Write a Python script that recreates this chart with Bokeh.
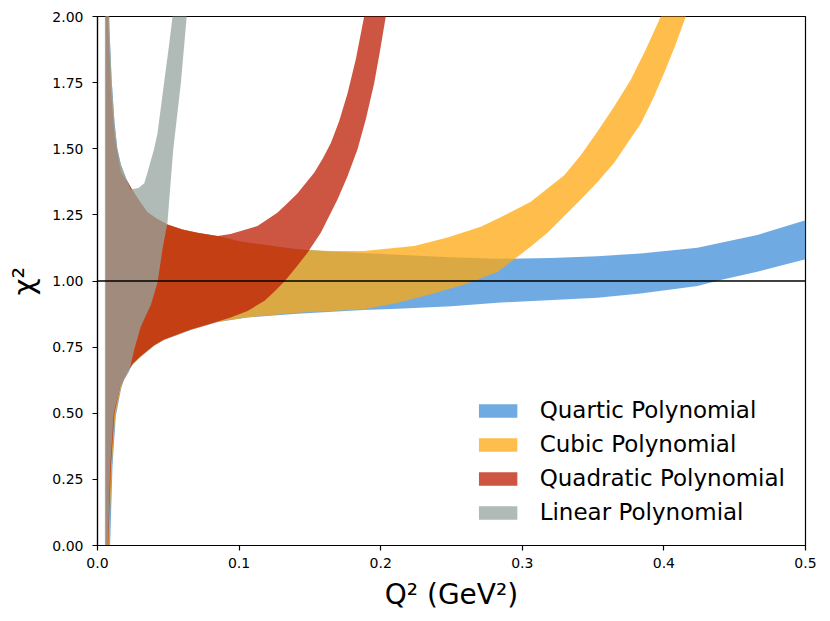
from bokeh.plotting import figure
from bokeh.models import Span, FixedTicker, PrintfTickFormatter, Range1d
from bokeh.embed import file_html
from bokeh.resources import INLINE

# ---------------- data ----------------
# Quartic polynomial band
q4_up_x = [0.0058, 0.0078, 0.0085, 0.0100, 0.0120, 0.0140, 0.0165, 0.0200, 0.0240, 0.0300,
           0.0353, 0.0420, 0.0494, 0.0600, 0.0706, 0.0847, 0.1000, 0.1200, 0.1410, 0.1650,
           0.1880, 0.2120, 0.2500, 0.2825, 0.3200, 0.3530, 0.3835, 0.4237, 0.4659, 0.5000]
q4_up_y = [2.50, 2.20, 1.95, 1.76, 1.60, 1.50, 1.44, 1.39, 1.35, 1.30,
           1.26, 1.235, 1.214, 1.195, 1.182, 1.170, 1.150, 1.135, 1.120, 1.112,
           1.106, 1.099, 1.090, 1.084, 1.087, 1.094, 1.104, 1.126, 1.174, 1.230]
q4_lo_x = [0.0058, 0.0086, 0.0089, 0.0106, 0.0129, 0.0165, 0.0185, 0.0212, 0.0250, 0.0306,
           0.0400, 0.0470, 0.0659, 0.0850, 0.1060, 0.1410, 0.1880, 0.2120, 0.2500, 0.2825,
           0.3530, 0.3835, 0.4237, 0.4400, 0.4659, 0.5000]
q4_lo_y = [-0.5, -0.2, 0.0, 0.30, 0.488, 0.589, 0.625, 0.652, 0.685, 0.714,
           0.755, 0.777, 0.815, 0.845, 0.862, 0.876, 0.890, 0.895, 0.905, 0.918,
           0.937, 0.953, 0.981, 1.004, 1.035, 1.082]

# Cubic polynomial band
q3_up_x = [0.0058, 0.0076, 0.0082, 0.0098, 0.0118, 0.0140, 0.0165, 0.0200, 0.0240, 0.0300,
           0.0353, 0.0420, 0.0494, 0.0600, 0.0706, 0.0847, 0.1000, 0.1200, 0.1410, 0.1650,
           0.1880, 0.2236, 0.2472, 0.2707, 0.2825, 0.3060, 0.3296, 0.3413, 0.3531, 0.3649,
           0.3766, 0.3872, 0.3978, 0.4100]
q3_up_y = [2.50, 2.20, 1.95, 1.74, 1.58, 1.48, 1.43, 1.385, 1.35, 1.30,
           1.26, 1.235, 1.214, 1.195, 1.182, 1.170, 1.150, 1.135, 1.118, 1.113,
           1.113, 1.132, 1.164, 1.205, 1.235, 1.300, 1.400, 1.475, 1.565, 1.660,
           1.761, 1.875, 2.000, 2.200]
q3_lo_x = [0.0058, 0.0077, 0.0081, 0.0101, 0.0125, 0.0162, 0.0185, 0.0210, 0.0250, 0.0306,
           0.0400, 0.0470, 0.0659, 0.0850, 0.1060, 0.1410, 0.1880, 0.2120, 0.2354, 0.2590,
           0.2825, 0.2943, 0.3060, 0.3178, 0.3413, 0.3530, 0.3649, 0.3837, 0.3920, 0.4002,
           0.4080, 0.4155, 0.4250]
q3_lo_y = [-0.5, -0.2, 0.0, 0.30, 0.49, 0.59, 0.626, 0.653, 0.686, 0.715,
           0.756, 0.778, 0.816, 0.846, 0.863, 0.880, 0.893, 0.918, 0.950, 0.987,
           1.034, 1.082, 1.130, 1.182, 1.308, 1.373, 1.447, 1.595, 1.685, 1.786,
           1.890, 2.000, 2.200]

# Quadratic polynomial band
q2_up_x = [0.0058, 0.0072, 0.0078, 0.0095, 0.0120, 0.0165, 0.0212, 0.0240, 0.0300, 0.0353,
           0.0420, 0.0494, 0.0600, 0.0706, 0.0847, 0.0940, 0.1130, 0.1270, 0.1330, 0.1410,
           0.1530, 0.1590, 0.1648, 0.1707, 0.1766, 0.1825, 0.1883, 0.1930]
q2_up_y = [2.50, 2.20, 1.95, 1.72, 1.55, 1.41, 1.375, 1.35, 1.30, 1.26,
           1.235, 1.214, 1.195, 1.182, 1.170, 1.178, 1.208, 1.258, 1.288, 1.330,
           1.409, 1.462, 1.522, 1.605, 1.710, 1.840, 2.000, 2.200]
q2_lo_x = [0.0058, 0.0073, 0.0076, 0.0095, 0.0120, 0.0160, 0.0185, 0.0210, 0.0250, 0.0306,
           0.0400, 0.0470, 0.0659, 0.0850, 0.0940, 0.1060, 0.1180, 0.1250, 0.1320, 0.1410,
           0.1483, 0.1577, 0.1695, 0.1765, 0.1836, 0.1895, 0.1954, 0.1995, 0.2036, 0.2080]
q2_lo_y = [-0.5, -0.2, 0.0, 0.30, 0.50, 0.60, 0.628, 0.655, 0.688, 0.716,
           0.757, 0.779, 0.817, 0.847, 0.862, 0.887, 0.925, 0.960, 0.998, 1.057,
           1.107, 1.182, 1.308, 1.395, 1.497, 1.612, 1.748, 1.870, 2.000, 2.200]

# Linear polynomial band
q1_up_x = [0.0052, 0.0075, 0.0082, 0.0100, 0.0120, 0.0140, 0.0165, 0.0200, 0.0235, 0.0290,
           0.0330, 0.0353, 0.0365, 0.0400, 0.0424, 0.0470, 0.0500, 0.0530, 0.0560]
q1_up_y = [2.50, 2.20, 1.97, 1.76, 1.60, 1.50, 1.44, 1.39, 1.346, 1.352,
           1.37, 1.41, 1.434, 1.50, 1.56, 1.75, 1.87, 2.00, 2.20]
q1_lo_x = [0.0052, 0.0070, 0.0074, 0.0090, 0.0115, 0.0160, 0.0224, 0.0259, 0.0306, 0.0377,
           0.0424, 0.0459, 0.0494, 0.0535, 0.0589, 0.0630, 0.0660]
q1_lo_y = [-0.5, -0.2, 0.0, 0.30, 0.50, 0.60, 0.658, 0.740, 0.828, 0.910,
           0.994, 1.120, 1.220, 1.497, 1.750, 2.000, 2.200]

labels = ["Quartic Polynomial", "Cubic Polynomial", "Quadratic Polynomial", "Linear Polynomial"]
colors = ["#3F8FD8", "#FFA80F", "#BC1D04", "#96A4A0"]

x_ticks = [0.0, 0.1, 0.2, 0.3, 0.4, 0.5]
y_ticks = [0.0, 0.25, 0.5, 0.75, 1.0, 1.25, 1.5, 1.75, 2.0]
ref_level = 1.0

# ---------------- figure ----------------
FONT = "DejaVu Sans"
p = figure(width=822, height=613, x_range=Range1d(0, 0.5), y_range=Range1d(0, 2),
           output_backend="svg", toolbar_location=None,
           min_border_left=97, min_border_right=17, min_border_top=16, min_border_bottom=67)
p.xgrid.visible = False
p.ygrid.visible = False
p.outline_line_color = "black"
p.outline_line_width = 1.2
p.background_fill_color = "white"

bands = [(q4_up_x, q4_up_y, q4_lo_x, q4_lo_y),
         (q3_up_x, q3_up_y, q3_lo_x, q3_lo_y),
         (q2_up_x, q2_up_y, q2_lo_x, q2_lo_y),
         (q1_up_x, q1_up_y, q1_lo_x, q1_lo_y)]

for (ux, uy, lx, ly), lab, col in zip(bands, labels, colors):
    xs = list(ux) + list(reversed(lx))
    ys = list(uy) + list(reversed(ly))
    p.patch(xs, ys, fill_color=col, fill_alpha=0.75, line_alpha=0, legend_label=lab)

p.add_layout(Span(location=ref_level, dimension="width", line_color="black", line_width=1.4))

# axes
p.xaxis.ticker = FixedTicker(ticks=x_ticks)
p.yaxis.ticker = FixedTicker(ticks=y_ticks)
p.xaxis.formatter = PrintfTickFormatter(format="%.1f")
p.yaxis.formatter = PrintfTickFormatter(format="%.2f")
for ax in (p.xaxis[0], p.yaxis[0]):
    ax.axis_line_color = "black"
    ax.axis_line_width = 1.2
    ax.major_tick_line_color = "black"
    ax.major_tick_line_width = 1.2
    ax.major_tick_in = 0
    ax.major_tick_out = 5
    ax.minor_tick_line_color = None
    ax.major_label_text_font = FONT
    ax.major_label_text_font_size = "14px"
    ax.major_label_text_color = "black"
    ax.axis_label_text_font = FONT
    ax.axis_label_text_font_style = "normal"
    ax.axis_label_text_color = "black"
p.xaxis.major_label_standoff = 7
p.yaxis.major_label_standoff = 9
p.xaxis.axis_label_standoff = 7
p.yaxis.axis_label_standoff = 8
p.xaxis.axis_label_text_font_size = "28px"
p.yaxis.axis_label_text_font_size = "29px"

p.xaxis.axis_label = "Q² (GeV²)"
p.yaxis.axis_label = "χ²"

# legend
lg = p.legend[0]
lg.location = "bottom_right"
lg.label_text_font = FONT
lg.label_text_font_size = "23px"
lg.label_text_color = "black"
lg.glyph_width = 48
lg.glyph_height = 17
lg.label_standoff = 18
lg.label_height = 24
lg.spacing = 8
lg.padding = 10
lg.margin = 10
lg.border_line_alpha = 0
lg.background_fill_alpha = 0

open("out.html", "w").write(file_html(p, INLINE))
